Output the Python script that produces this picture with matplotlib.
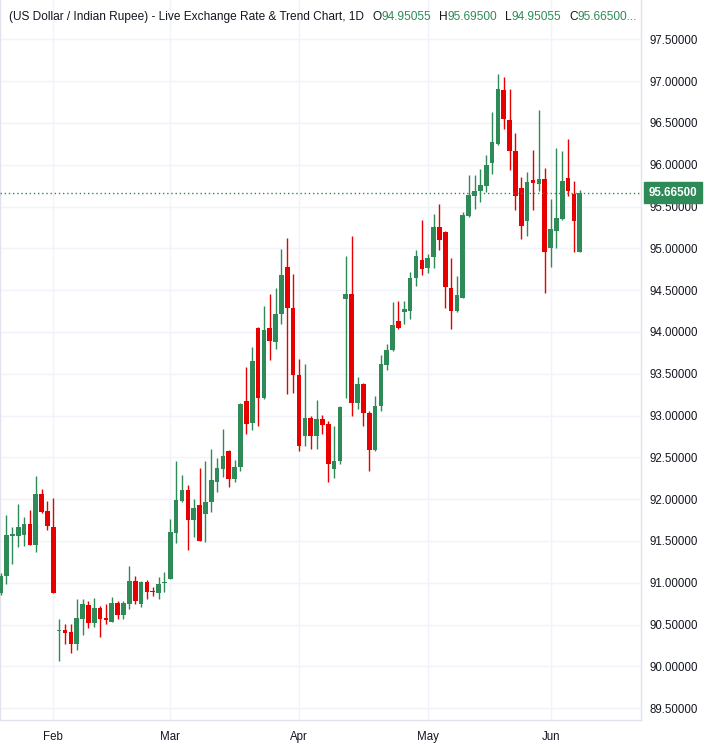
import numpy as np
import pandas as pd
import matplotlib
matplotlib.use('Agg')
import matplotlib.pyplot as plt
import matplotlib.transforms as mtransforms

# trading days shown on the chart (weekdays, 20 Jan - 8 Jun)
dates = pd.bdate_range('2026-01-20', '2026-06-08')

opens = [90.88, 91.08, 91.56, 91.56, 91.57, 91.70, 91.45, 92.06, 91.86,
         91.67, 90.42, 90.43, 90.41, 90.27, 90.57, 90.73, 90.52, 90.70, 90.58,
         90.53, 90.76, 90.61, 90.75, 91.02, 90.74, 91.01, 90.90, 90.88, 91.00,
         91.05, 91.59, 91.98, 92.11, 91.75, 91.93, 91.82, 91.96, 92.20, 92.36,
         92.58, 92.24, 92.38, 93.17, 92.91, 94.05, 93.21, 94.05, 93.88, 94.21,
         94.78, 94.29, 93.48, 92.76, 92.97, 92.76, 92.96, 92.90, 92.36, 92.45,
         94.39, 94.45, 93.15, 93.38, 93.03, 92.59, 93.11, 93.61, 93.78, 94.13,
         94.24, 94.25, 94.64, 94.86, 94.76, 94.90, 95.25, 95.20, 94.53, 94.25,
         94.41, 95.39, 95.63, 95.68, 95.75, 96.02, 96.25, 96.89, 96.53, 96.16,
         95.72, 95.33, 95.82, 95.77, 95.83, 95.00, 95.21, 95.35, 95.84, 95.65,
         94.95055]
highs = [91.12, 91.81, 91.67, 91.94, 91.79, 91.87, 92.28, 92.12, 91.98,
         92.01, 90.57, 90.51, 90.51, 90.80, 90.80, 90.78, 90.82, 90.72, 90.74,
         90.83, 90.78, 90.78, 91.20, 91.08, 91.02, 91.03, 90.95, 91.07, 91.13,
         91.76, 92.46, 92.29, 92.17, 92.00, 92.37, 92.46, 92.60, 92.49, 92.84,
         92.59, 92.47, 93.15, 93.58, 93.82, 94.06, 94.31, 94.45, 94.52, 94.99,
         95.12, 94.69, 93.68, 93.62, 92.99, 93.19, 93.01, 92.93, 92.87, 93.11,
         94.91, 95.15, 93.46, 93.39, 93.05, 93.23, 93.72, 93.85, 94.36, 94.37,
         94.37, 94.72, 94.98, 95.34, 94.93, 95.41, 95.53, 95.21, 94.88, 94.67,
         95.43, 95.88, 95.88, 95.95, 96.12, 96.63, 97.09, 97.05, 96.91, 96.38,
         95.85, 95.91, 96.18, 96.65, 95.96, 95.59, 96.20, 96.16, 96.31, 95.80,
         95.69500]
lows = [90.85, 90.98, 91.22, 91.43, 91.44, 91.45, 91.37, 91.83, 91.63,
        90.88, 90.06, 90.27, 90.16, 90.19, 90.37, 90.46, 90.47, 90.35, 90.51,
        90.53, 90.57, 90.57, 90.69, 90.74, 90.71, 90.81, 90.84, 90.81, 90.89,
        91.04, 91.47, 91.97, 91.39, 91.55, 91.50, 91.49, 91.85, 92.09, 92.27,
        92.14, 92.21, 92.34, 92.78, 92.83, 92.87, 93.20, 93.66, 93.80, 94.10,
        93.26, 93.27, 92.58, 92.64, 92.60, 92.60, 92.78, 92.21, 92.25, 92.42,
        93.21, 92.99, 93.08, 92.87, 92.34, 92.58, 93.05, 93.54, 93.77, 94.04,
        94.09, 94.16, 94.55, 94.68, 94.71, 94.77, 94.98, 94.29, 94.03, 94.24,
        94.40, 95.37, 95.47, 95.55, 95.67, 95.89, 96.24, 96.43, 95.94, 95.46,
        95.11, 95.15, 95.46, 95.69, 94.46, 94.78, 95.00, 95.34, 95.63, 94.95,
        94.95055]
closes = [91.08, 91.57, 91.58, 91.67, 91.70, 91.45, 92.06, 91.85, 91.68,
          90.88, 90.43, 90.40, 90.27, 90.58, 90.75, 90.52, 90.70, 90.57, 90.55,
          90.76, 90.61, 90.76, 91.02, 90.78, 91.01, 90.89, 90.89, 90.99, 91.01,
          91.61, 91.99, 92.11, 91.75, 91.89, 91.50, 91.96, 92.23, 92.37, 92.52,
          92.24, 92.38, 93.14, 92.90, 93.65, 93.21, 94.02, 93.89, 94.21, 94.68,
          94.28, 93.48, 92.63, 92.97, 92.75, 92.96, 92.89, 92.42, 92.46, 93.10,
          94.45, 93.15, 93.38, 93.03, 92.59, 93.11, 93.62, 93.78, 94.08, 94.05,
          94.27, 94.64, 94.91, 94.75, 94.89, 95.25, 95.10, 94.54, 94.25, 94.44,
          95.40, 95.64, 95.69, 95.76, 96.00, 96.27, 96.91, 96.55, 96.16, 95.62,
          95.27, 95.79, 95.78, 95.83, 94.96, 95.23, 95.36, 95.80, 95.68, 95.33,
          95.66500]

title = '(US Dollar / Indian Rupee) - Live Exchange Rate & Trend Chart, 1D'
month_labels = ['Feb', 'Mar', 'Apr', 'May', 'Jun']
price_ticks = np.arange(89.5, 97.51, 0.5)

UP = '#2e8b57'
DOWN = '#e60000'
TEXT = '#131722'
GRID = '#f0f3fa'
BORDER = '#e0e3eb'

W, H = 708, 747
fig = plt.figure(figsize=(W / 100, H / 100), dpi=100)
ax = fig.add_axes([0, 27 / H, 641 / W, 720 / H])

o = np.array(opens)
hi = np.array(highs)
lo = np.array(lows)
c = np.array(closes)
x = np.arange(len(dates))
up = c >= o
colors = np.where(up, UP, DOWN)

# wicks then bodies
ax.vlines(x, lo, hi, colors=colors, linewidth=1.0, zorder=3)
body = np.maximum(np.abs(c - o), 0.012)
ax.bar(x, body, bottom=np.minimum(o, c), width=0.8, color=colors,
       linewidth=0, zorder=4)

ax.set_xlim(-0.11, 109.46)
ax.set_ylim(89.358, 97.970)

# month ticks at first trading day of each month
month_pos = [int(np.argmax((dates.month == m))) for m in [2, 3, 4, 5, 6]]
ax.set_xticks(month_pos)
ax.set_xticklabels(month_labels)
ax.set_yticks(price_ticks)
ax.set_yticklabels(['%.5f' % v for v in price_ticks])
ax.yaxis.tick_right()
ax.tick_params(axis='both', length=0, colors=TEXT, labelsize=8.3)
ax.tick_params(axis='y', pad=6)
ax.tick_params(axis='x', pad=8)
for lab in ax.get_xticklabels() + ax.get_yticklabels():
    lab.set_fontfamily('Liberation Sans')
ax.grid(True, color=GRID, linewidth=1.0, zorder=0)
ax.set_axisbelow(True)
ax.spines['top'].set_visible(False)
for s in ['left', 'right', 'bottom']:
    ax.spines[s].set_color(BORDER)
    ax.spines[s].set_linewidth(1.0)

# last price line and label
last = closes[-1]
ax.axhline(last, color=UP, linestyle=(0, (1, 2)), linewidth=1.0, zorder=5)
trans = mtransforms.blended_transform_factory(ax.transAxes, ax.transData)
ax.text(1.0 + 8 / 641, last, '%.5f' % last, transform=trans, ha='left',
        va='center', color='white', fontsize=8.3, fontweight='bold',
        family='Liberation Sans', clip_on=False, zorder=6,
        bbox=dict(boxstyle='square,pad=0.4', fc=UP, ec=UP))

# header line: title, then OHLC of the last candle
renderer = fig.canvas.get_renderer()
pieces = [(title, TEXT, 0),
          ('O', TEXT, 8), ('%.5f' % opens[-1], UP, 0),
          ('H', TEXT, 8), ('%.5f' % highs[-1], UP, 0),
          ('L', TEXT, 8), ('%.5f' % lows[-1], UP, 0),
          ('C', TEXT, 8), ('%.5f...' % closes[-1], UP, 0)]
px = 9
for s, col, gap in pieces:
    px += gap
    t = fig.text(px / W, 1 - 17 / H, s, color=col, ha='left', va='center',
                 fontsize=8.6, family='Liberation Sans')
    px += t.get_window_extent(renderer).width

fig.savefig('out.png', dpi=100, facecolor='white')
